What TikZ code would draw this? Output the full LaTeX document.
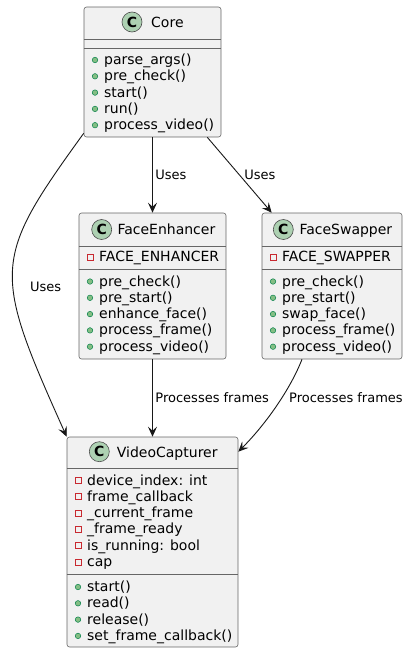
\documentclass[tikz,border=0pt]{standalone}
\usepackage{fontspec}
\setmainfont{DejaVu Sans}
\usetikzlibrary{arrows.meta, positioning}
\definecolor{boxfill}{HTML}{F1F1F1}
\definecolor{spotfill}{HTML}{ADD1B2}
\definecolor{pubfill}{HTML}{84BE84}
\definecolor{publine}{HTML}{038048}
\definecolor{privline}{HTML}{C82930}
\definecolor{edge}{HTML}{181818}

\begin{document}
\begin{tikzpicture}[x=1pt, y=-1pt,
  cls/.style={rectangle, rounded corners=2.5pt, draw=black!60, fill=boxfill,
              line width=0.6pt, inner sep=0},
  spot/.style={circle, draw=black!70, fill=spotfill, line width=0.6pt,
               minimum size=20pt, inner sep=0, font=\fontsize{14}{16}\selectfont\bfseries},
  member/.style={anchor=base west, inner sep=0, font=\fontsize{14}{16}\selectfont},
  pub/.style={circle, draw=publine, fill=pubfill, line width=0.5pt,
              minimum size=5.5pt, inner sep=0},
  priv/.style={rectangle, draw=privline, line width=0.7pt, minimum size=6pt, inner sep=0},
  sepline/.style={draw=black!60, line width=0.6pt},
  link/.style={draw=edge, line width=0.9pt, -{Stealth[length=10pt, width=9pt, inset=4pt]}},
  lbl/.style={anchor=west, inner sep=0, font=\fontsize{13}{15}\selectfont}]
  \useasboundingbox (0,0) rectangle (408,653);

  \node[cls, minimum width=137pt, minimum height=130pt] (core) at (152.5,72) {};
  \node[cls, minimum width=147pt, minimum height=146pt] (fe) at (152.5,286) {};
  \node[cls, minimum width=140pt, minimum height=146pt] (fs) at (332,286) {};
  \node[cls, minimum width=171pt, minimum height=210pt] (vc) at (152.5,542) {};
  \foreach \n/\y in {core/39, core/48, fe/246, fe/269, fs/246, fs/269, vc/468, vc/574}
    \draw[sepline] (\n.west |- 0,\y) -- (\n.east |- 0,\y);

  \foreach \n/\x/\y/\name/\tx/\ty in {core/132/22/Core/151/27.4,
                                      fe/101.7/229.5/FaceEnhancer/117.3/234.5,
                                      fs/283.3/229.5/FaceSwapper/299.3/234.5,
                                      vc/99.3/451.7/VideoCapturer/116.7/457} {
    \node[spot] (\n-spot) at (\x,\y) {C};
    \node[member] (\n-name) at (\tx,\ty) {\name};
  }

  \foreach \t [count=\i] in {parse\_args(), pre\_check(), start(), run(), process\_video()} {
    \node[pub] (core-b\i) at (95,43.7+16.3*\i) {};
    \node[member] (core-m\i) at (104,48.2+16.3*\i) {\t};
  }

  \node[priv] (fe-a1) at (90,257) {};
  \node[member] (fe-f1) at (99,261.5) {FACE\_ENHANCER};
  \foreach \t [count=\i] in {pre\_check(), pre\_start(), enhance\_face(), process\_frame(), process\_video()} {
    \node[pub] (fe-b\i) at (90,265.2+16.3*\i) {};
    \node[member] (fe-m\i) at (99,269.7+16.3*\i) {\t};
  }

  \node[priv] (fs-a1) at (273,257) {};
  \node[member] (fs-f1) at (282,261.5) {FACE\_SWAPPER};
  \foreach \t [count=\i] in {pre\_check(), pre\_start(), swap\_face(), process\_frame(), process\_video()} {
    \node[pub] (fs-b\i) at (273,265.2+16.3*\i) {};
    \node[member] (fs-m\i) at (282,269.7+16.3*\i) {\t};
  }

  \foreach \t [count=\i] in {device\_index: int, frame\_callback, \_current\_frame,
                             \_frame\_ready, is\_running: bool, cap} {
    \node[priv] (vc-a\i) at (78,464.2+16.3*\i) {};
    \node[member] (vc-f\i) at (87,468.7+16.3*\i) {\t};
  }
  \foreach \t [count=\i] in {start(), read(), release(), set\_frame\_callback()} {
    \node[pub] (vc-b\i) at (78,570.7+16.3*\i) {};
    \node[member] (vc-m\i) at (87,575.2+16.3*\i) {\t};
  }

  \draw[link] (core) -- node[lbl, xshift=2.5pt] (uses1) {Uses} (fe);
  \draw[link] ([xshift=-14pt]core.south east) -- node[lbl, xshift=4.5pt] (uses2) {Uses}
    ([xshift=10pt]fs.north west);
  \draw[link] ([yshift=4pt]core.south west) .. controls (-8,260) and (-8,270) .. (vc.north west);
  \node[lbl] (uses3) at (30,287) {Uses};
  \draw[link] (fe) -- node[lbl, xshift=2.5pt] (proc1) {Processes frames} (vc);
  \draw[link] ([xshift=-30pt]fs.south) .. controls (290,390) and (265,425)
    .. ([yshift=-15pt]vc.north east);
  \node[lbl] (proc2) at (289,398) {Processes frames};
\end{tikzpicture}
\end{document}
